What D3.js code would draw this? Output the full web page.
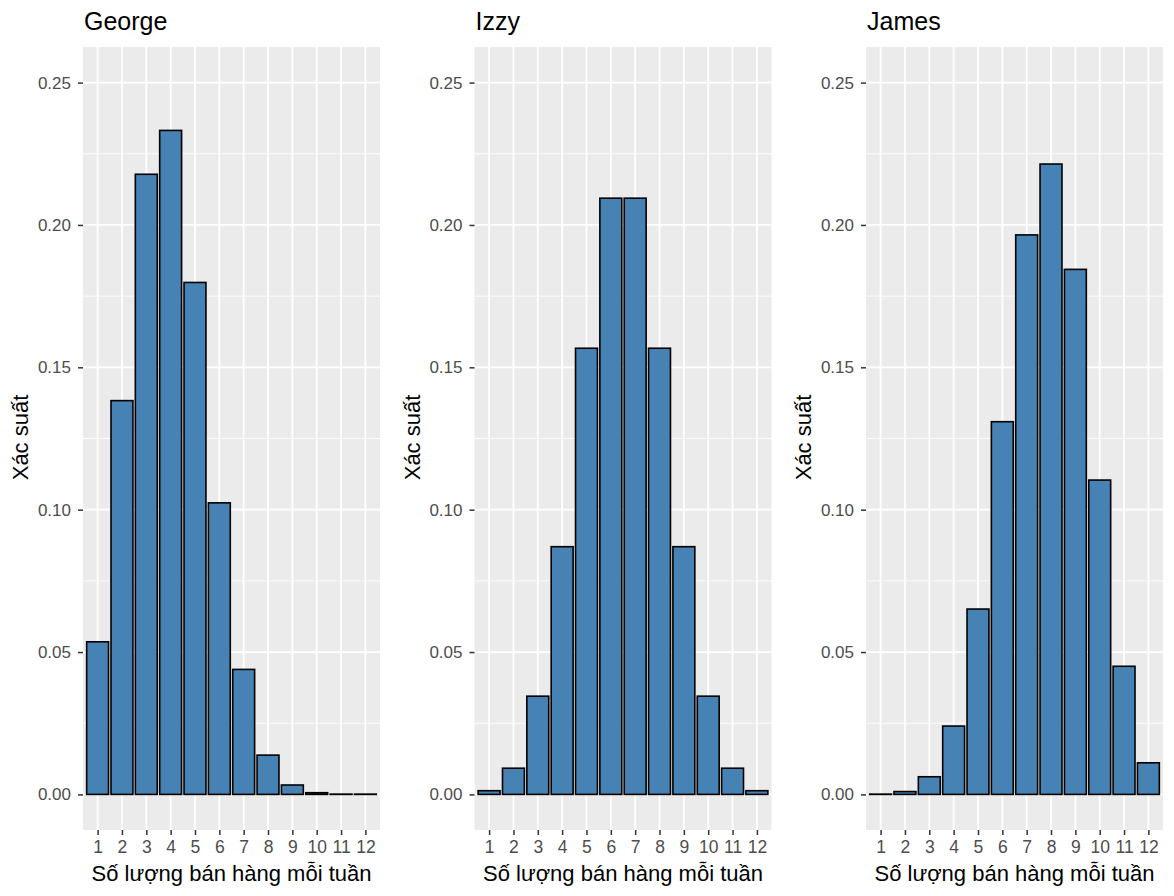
<!DOCTYPE html>
<html>
<head>
<meta charset="utf-8">
<script src="https://cdn.jsdelivr.net/npm/d3@7"></script>
<style>
  html, body { margin: 0; padding: 0; background: #fff; }
  svg { display: block; font-family: "Liberation Sans", Arial, sans-serif; }
</style>
</head>
<body>
<svg id="chart" width="1174" height="896"></svg>
<script>
// ---- data ----
const salesCounts = [1, 2, 3, 4, 5, 6, 7, 8, 9, 10, 11, 12];
const panelNames = ["George", "Izzy", "James"];
const georgeProb = [0.0536, 0.1383, 0.2178, 0.2332, 0.1798, 0.1024, 0.0439, 0.0138, 0.0033, 0.0006, 0.0001, 0.0001];
const izzyProb   = [0.0013, 0.0092, 0.0345, 0.0870, 0.1567, 0.2094, 0.2094, 0.1567, 0.0870, 0.0345, 0.0092, 0.0013];
const jamesProb  = [0.0001, 0.0010, 0.0062, 0.0240, 0.0651, 0.1309, 0.1965, 0.2214, 0.1844, 0.1104, 0.0450, 0.0111];
const yTicks = [0, 0.05, 0.10, 0.15, 0.20, 0.25];
const yMinor = [0.025, 0.075, 0.125, 0.175, 0.225];
const yTitle = "Xác suất";
const xTitle = "Số lượng bán hàng mỗi tuần";

const series = [georgeProb, izzyProb, jamesProb];

// ---- layout ----
const svg = d3.select("#chart");
const panelLefts = [83, 474.5, 866];
const panelW = 297;
const plotTop = 47, plotBottom = 830;
const FONT = "'Liberation Sans', Arial, sans-serif";

const y = d3.scaleLinear().domain([-0.0125, 0.2625]).range([plotBottom, plotTop]);

panelNames.forEach((name, i) => {
  const x0 = panelLefts[i];
  const x = d3.scaleLinear().domain([0.4, 12.6]).range([x0, x0 + panelW]);
  const g = svg.append("g");

  // background
  g.append("rect").attr("x", x0).attr("y", plotTop)
    .attr("width", panelW).attr("height", plotBottom - plotTop)
    .attr("fill", "#EBEBEB");

  // minor horizontal grid
  g.selectAll(".ymin").data(yMinor).enter().append("line")
    .attr("x1", x0).attr("x2", x0 + panelW)
    .attr("y1", d => y(d)).attr("y2", d => y(d))
    .attr("stroke", "#fff").attr("stroke-width", 0.9);
  // major horizontal grid
  g.selectAll(".ymaj").data(yTicks).enter().append("line")
    .attr("x1", x0).attr("x2", x0 + panelW)
    .attr("y1", d => y(d)).attr("y2", d => y(d))
    .attr("stroke", "#fff").attr("stroke-width", 1.8);
  // vertical grid
  g.selectAll(".xmaj").data(salesCounts).enter().append("line")
    .attr("x1", d => x(d)).attr("x2", d => x(d))
    .attr("y1", plotTop).attr("y2", plotBottom)
    .attr("stroke", "#fff").attr("stroke-width", 1.8);

  // bars
  const vals = series[i];
  const bw = x(0.9) - x(0);
  g.selectAll(".bar").data(salesCounts).enter().append("rect")
    .attr("x", d => x(d) - bw / 2)
    .attr("width", bw)
    .attr("y", (d, j) => y(vals[j]))
    .attr("height", (d, j) => y(0) - y(vals[j]))
    .attr("fill", "#4682B4")
    .attr("stroke", "#000")
    .attr("stroke-width", 1.6);

  // y axis
  const yAxis = d3.axisLeft(y).tickValues(yTicks)
    .tickFormat(d3.format(".2f")).tickSize(5).tickPadding(7);
  const ya = g.append("g").attr("transform", `translate(${x0},0)`).call(yAxis);
  ya.select(".domain").remove();
  ya.selectAll("line").attr("stroke", "#333").attr("stroke-width", 1.5);
  ya.selectAll("text").attr("fill", "#4D4D4D")
    .style("font-size", "17px").style("font-family", FONT);

  // x axis
  const xAxis = d3.axisBottom(x).tickValues(salesCounts)
    .tickFormat(d3.format("d")).tickSize(5).tickPadding(6);
  const xa = g.append("g").attr("transform", `translate(0,${plotBottom})`).call(xAxis);
  xa.select(".domain").remove();
  xa.selectAll("line").attr("stroke", "#333").attr("stroke-width", 1.5);
  xa.selectAll("text").attr("fill", "#4D4D4D")
    .style("font-size", "17.5px").style("font-family", FONT);

  // panel title
  g.append("text").attr("x", x0 + 1).attr("y", 30)
    .attr("fill", "#000").style("font-size", "25px")
    .text(name);

  // x title
  g.append("text").attr("x", x0 + panelW / 2).attr("y", 881)
    .attr("text-anchor", "middle").attr("fill", "#000")
    .style("font-size", "22px")
    .text(xTitle);

  // y title
  g.append("text")
    .attr("transform", `translate(${x0 - 55},${(plotTop + plotBottom) / 2 - 1}) rotate(-90)`)
    .attr("text-anchor", "middle").attr("fill", "#000")
    .style("font-size", "22px")
    .text(yTitle);
});
</script>
</body>
</html>
